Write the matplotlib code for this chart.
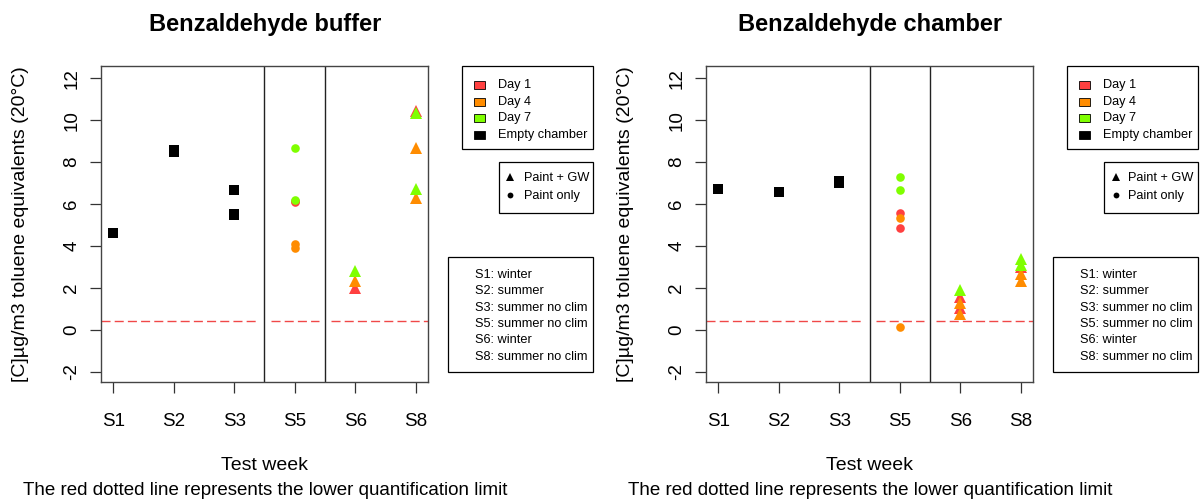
import matplotlib
matplotlib.use("Agg")
import matplotlib.pyplot as plt
from matplotlib.patches import Rectangle

plt.rcParams['font.family'] = ['Liberation Sans', 'DejaVu Sans']
plt.rcParams['axes.unicode_minus'] = False

# ---- data ---------------------------------------------------------------
weeks = ["S1", "S2", "S3", "S5", "S6", "S8"]
week_notes = ["S1: winter", "S2: summer", "S3: summer no clim",
              "S5: summer no clim", "S6: winter", "S8: summer no clim"]
paint_only_weeks = ["S5"]          # circles; other painted weeks are Paint + GW
quant_limit = 0.4

# Benzaldehyde buffer
buffer_empty_wk = ["S1", "S2", "S2", "S3", "S3", "S3"]
buffer_empty = [4.63, 8.48, 8.60, 6.65, 5.47, 5.55]
buffer_day1_wk = ["S5", "S5", "S6", "S8"]
buffer_day1 = [6.10, 6.15, 2.00, 10.45]
buffer_day4_wk = ["S5", "S5", "S6", "S8", "S8"]
buffer_day4 = [3.92, 4.08, 2.35, 8.66, 6.28]
buffer_day7_wk = ["S5", "S5", "S6", "S8", "S8"]
buffer_day7 = [8.70, 6.20, 2.80, 10.33, 6.73]

# Benzaldehyde chamber
chamber_empty_wk = ["S1", "S2", "S3", "S3"]
chamber_empty = [6.71, 6.60, 7.00, 7.12]
chamber_day1_wk = ["S5", "S5", "S6", "S6", "S8"]
chamber_day1 = [5.58, 4.85, 1.55, 1.02, 3.00]
chamber_day4_wk = ["S5", "S5", "S6", "S6", "S8", "S8"]
chamber_day4 = [5.33, 0.12, 1.28, 0.75, 2.67, 2.35]
chamber_day7_wk = ["S5", "S5", "S6", "S8", "S8"]
chamber_day7 = [7.31, 6.68, 1.88, 3.39, 3.10]

day_labels = ["Day 1", "Day 4", "Day 7", "Empty chamber"]
day_colors = ["#FF4040", "#FF8C00", "#7FFF00", "black"]

# ---- figure -------------------------------------------------------------
W, H = 1202, 504
fig = plt.figure(figsize=(W / 100, H / 100), dpi=100)

overlay = fig.add_axes([0, 0, 1, 1])
overlay.set_xlim(0, W)
overlay.set_ylim(H, 0)
overlay.axis("off")
overlay.set_zorder(-1)


def make_axes(left, right, top=66, bottom=382):
    ax = fig.add_axes([left / W, 1 - bottom / H, (right - left) / W, (bottom - top) / H])
    ax.set_xlim(0.8, 6.2)
    ax.set_ylim(-2.49, 12.59)
    for sp in ax.spines.values():
        sp.set_color("#444444")
        sp.set_linewidth(1.0)
    ax.set_xticks(range(1, len(weeks) + 1))
    ax.set_xticklabels(weeks)
    ax.set_yticks(range(-2, 13, 2))
    ax.tick_params(axis="both", length=8, width=0.9, color="#333333",
                   labelsize=13.5, direction="out")
    ax.tick_params(axis="x", pad=14)
    ax.tick_params(axis="y", pad=7)
    for lab in ax.get_yticklabels():
        lab.set_rotation(90)
        lab.set_va("center")
        lab.set_ha("right")
    return ax


def draw_panel(ax, empty, days):
    for sep in (3.5, 4.5):
        ax.axvline(sep, color="#222222", lw=1.0, zorder=1)
    for x0, x1 in [(0.8, 3.4), (3.6, 4.4), (4.6, 6.2)]:
        ax.plot([x0, x1], [quant_limit, quant_limit], color="#F04848", lw=1.0,
                linestyle=(0, (6.5, 3.0)), zorder=2)
    ewk, evals = empty
    ax.plot([weeks.index(w) + 1 for w in ewk], evals, "s", color="black",
            ms=6.5, mec="black", mew=0, zorder=3)
    for (wk, vals), col in zip(days, day_colors[:3]):
        for is_circle in (False, True):
            xs = [weeks.index(w) + 1 for w, v in zip(wk, vals)
                  if (w in paint_only_weeks) == is_circle]
            ys = [v for w, v in zip(wk, vals) if (w in paint_only_weeks) == is_circle]
            if not xs:
                continue
            if is_circle:
                ax.plot(xs, ys, "o", color=col, ms=6.2, mew=0, zorder=4)
            else:
                ax.plot(xs, ys, "^", color=col, ms=8.5, mew=0, zorder=4)


def draw_legends(x_right):
    # colour key
    bx0 = x_right - 131
    overlay.add_patch(Rectangle((bx0, 66), 131, 83.3, fill=False, ec="black", lw=0.9))
    for i, (lab, col) in enumerate(zip(day_labels, day_colors)):
        y = 85 + i * 16.7
        overlay.add_patch(Rectangle((bx0 + 12, y - 4), 11, 8, fc=col, ec="black", lw=0.6))
        overlay.text(bx0 + 35.5, y, lab, fontsize=9.2, va="center", ha="left")
    # marker key
    bx1 = x_right - 94.3
    overlay.add_patch(Rectangle((bx1, 161.7), 94.3, 51, fill=False, ec="black", lw=0.9))
    overlay.plot([bx1 + 11.5], [177], "^", color="black", ms=5.5, mew=0)
    overlay.plot([bx1 + 11.5], [195], "o", color="black", ms=4.2, mew=0)
    overlay.text(bx1 + 24.5, 178, "Paint + GW", fontsize=9.2, va="center", ha="left")
    overlay.text(bx1 + 24.5, 196, "Paint only", fontsize=9.2, va="center", ha="left")
    # week notes
    bx2 = x_right - 145
    overlay.add_patch(Rectangle((bx2, 256.7), 145, 115, fill=False, ec="black", lw=0.9))
    for i, note in enumerate(week_notes):
        overlay.text(bx2 + 26.5, 275 + i * 16.3, note, fontsize=9.2, va="center", ha="left")


panels = [
    ("Benzaldehyde buffer", 101, 428, 593.3,
     (buffer_empty_wk, buffer_empty),
     [(buffer_day1_wk, buffer_day1), (buffer_day4_wk, buffer_day4), (buffer_day7_wk, buffer_day7)]),
    ("Benzaldehyde chamber", 706, 1033, 1198.3,
     (chamber_empty_wk, chamber_empty),
     [(chamber_day1_wk, chamber_day1), (chamber_day4_wk, chamber_day4), (chamber_day7_wk, chamber_day7)]),
]

for title, left, right, leg_right, empty, days in panels:
    ax = make_axes(left, right)
    draw_panel(ax, empty, days)
    draw_legends(leg_right)
    cx = (left + right) / 2
    overlay.text(cx + 1, 24, title, fontsize=17, fontweight="bold", ha="center", va="center")
    overlay.text(left - 80, 224, "[C]µg/m3 toluene equivalents (20°C)", fontsize=14,
                 rotation=90, ha="center", va="center")
    overlay.text(cx, 466, "Test week", fontsize=14, ha="center", va="center")
    overlay.text(cx + 1, 490.5, "The red dotted line represents the lower quantification limit",
                 fontsize=13.5, ha="center", va="center")

fig.savefig("out.png", dpi=100)
